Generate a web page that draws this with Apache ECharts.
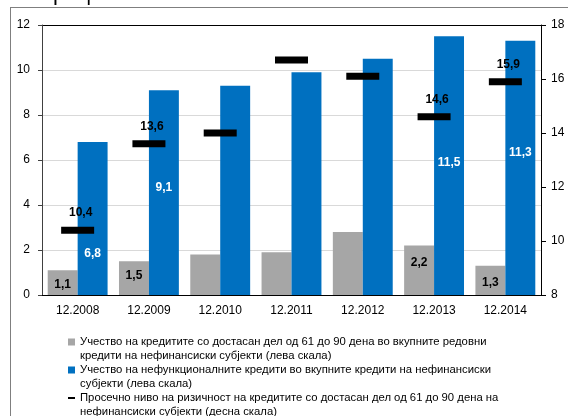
<!DOCTYPE html>
<html>
<head>
<meta charset="utf-8">
<script src="https://cdn.jsdelivr.net/npm/echarts@6/dist/echarts.min.js"></script>
<style>
  html, body { margin: 0; padding: 0; background: #fff; }
  #myChart { width: 568px; height: 416px; }
</style>
</head>
<body>
<div id="myChart"></div>
<script>
const categories = ['12.2008', '12.2009', '12.2010', '12.2011', '12.2012', '12.2013', '12.2014'];
const overdueShare = [1.1, 1.5, 1.8, 1.9, 2.8, 2.2, 1.3];
const nplShare = [6.8, 9.1, 9.3, 9.9, 10.5, 11.5, 11.3];
const riskLevel = [10.4, 13.6, 14.0, 16.7, 16.1, 14.6, 15.9];
const labelled = [true, true, false, false, false, true, true];
const seriesNames = [
  'Учество на кредитите со достасан дел од 61 до 90 дена во вкупните редовни\nкредити на нефинансиски субјекти (лева скала)',
  'Учество на нефункционалните кредити во вкупните кредити на нефинансиски\nсубјекти (лева скала)',
  'Просечно ниво на ризичност на кредитите со достасан дел од 61 до 90 дена на\nнефинансиски субјекти (десна скала)'
];

// manual nudges of the bar labels, like in the original
const greyLabelShift = [2, -2, 0, 0, 0, -8, 2];
const blueLabelShift = [35, -5, 0, 0, 0, -3, -15];

const fontFamily = 'Liberation Sans, Arial, sans-serif';
const fmt = v => String(v.toFixed(1)).replace('.', ',');

const squareIcon = 'path://M0,0L0,0Z M0,3.5L7,3.5L7,10.5L0,10.5Z M7,28L7,28Z';
const dashIcon = 'path://M0,0L0,0Z M0,6L7,6L7,8L0,8Z M7,28L7,28Z';

const myChart = echarts.init(document.getElementById('myChart'));

const option = {
  animation: false,
  textStyle: { fontFamily },
  graphic: [
    { type: 'text', left: 8, top: -17, style: { text: 'Во проценти', font: '22px ' + fontFamily, fill: '#000' } },
    { type: 'line', shape: { x1: 10, y1: 7.5, x2: 568, y2: 7.5 }, style: { stroke: '#7f7f7f', lineWidth: 1 } },
    { type: 'line', shape: { x1: 10.5, y1: 7, x2: 10.5, y2: 416 }, style: { stroke: '#7f7f7f', lineWidth: 1 } }
  ],
  grid: { left: 42, right: 27, top: 25, bottom: 121 },
  legend: {
    orient: 'vertical',
    left: 68,
    top: 335,
    height: 120,
    padding: 0,
    itemGap: 0,
    itemWidth: 7,
    itemHeight: 28,
    textStyle: { fontSize: 11.3, lineHeight: 14, color: '#000' },
    data: [
      { name: seriesNames[0], icon: squareIcon },
      { name: seriesNames[1], icon: squareIcon },
      { name: seriesNames[2], icon: dashIcon }
    ]
  },
  xAxis: {
    type: 'category',
    data: categories,
    axisLine: { lineStyle: { color: '#000' } },
    axisTick: { length: 5, lineStyle: { color: '#000' } },
    axisLabel: { color: '#000', fontSize: 12, margin: 10 }
  },
  yAxis: [
    {
      type: 'value', min: 0, max: 12, interval: 2,
      axisLine: { show: true, lineStyle: { color: '#404040' } },
      axisTick: { show: true, length: 4, lineStyle: { color: '#404040' } },
      axisLabel: { color: '#000', fontSize: 12, margin: 12 },
      splitLine: { lineStyle: { color: ['#d9d9d9', '#d9d9d9', '#d9d9d9', '#d9d9d9', '#d9d9d9', '#d9d9d9', '#000'], width: 1 } }
    },
    {
      type: 'value', min: 8, max: 18, interval: 2,
      axisLine: { show: true, lineStyle: { color: '#000' } },
      axisTick: { show: true, length: 5, lineStyle: { color: '#000' } },
      axisLabel: { color: '#000', fontSize: 12, margin: 10 },
      splitLine: { show: false }
    }
  ],
  series: [
    {
      name: seriesNames[0],
      type: 'bar',
      barGap: 0,
      barCategoryGap: '16%',
      itemStyle: { color: '#a6a6a6' },
      data: overdueShare.map((v, i) => ({
        value: v,
        label: {
          show: labelled[i], position: 'inside', offset: [0, greyLabelShift[i]],
          formatter: p => fmt(p.value),
          color: '#000', fontWeight: 'bold', fontSize: 12
        }
      }))
    },
    {
      name: seriesNames[1],
      type: 'bar',
      itemStyle: { color: '#0070c0' },
      data: nplShare.map((v, i) => ({
        value: v,
        label: {
          show: labelled[i], position: 'inside', offset: [0, blueLabelShift[i]],
          formatter: p => fmt(p.value),
          color: '#fff', fontWeight: 'bold', fontSize: 12
        }
      }))
    },
    {
      name: seriesNames[2],
      type: 'line',
      yAxisIndex: 1,
      symbol: 'rect',
      symbolSize: [33, 7],
      itemStyle: { color: '#000' },
      lineStyle: { opacity: 0 },
      data: riskLevel.map((v, i) => ({
        value: v,
        label: {
          show: labelled[i], position: 'top', distance: 8, offset: [3, 0],
          formatter: p => fmt(p.value),
          color: '#000', fontWeight: 'bold', fontSize: 12
        }
      }))
    }
  ]
};

myChart.setOption(option);
</script>
</body>
</html>
